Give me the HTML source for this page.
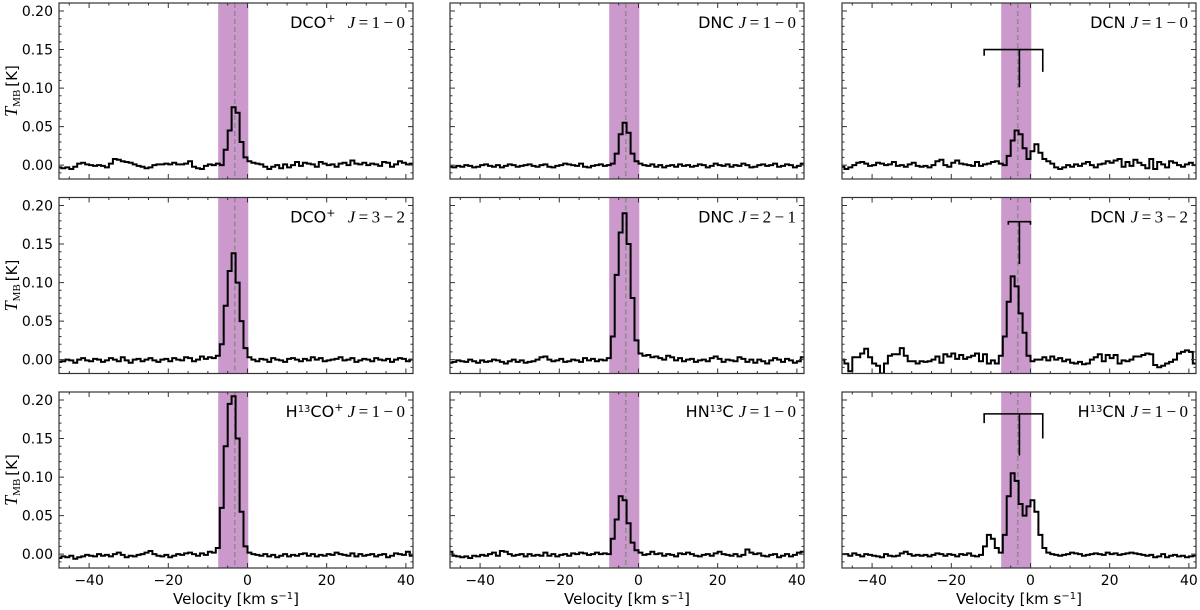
<!DOCTYPE html>
<html><head><meta charset="utf-8"><style>
html,body{margin:0;padding:0;background:#fff;}
svg{display:block;font-family:"DejaVu Sans","Liberation Sans",sans-serif;}
</style></head><body>
<svg id="fig" width="1200" height="610" viewBox="0 0 1200 610" xmlns="http://www.w3.org/2000/svg"></svg>
<script>
const vStart = -48;
const vStep = 1;
const dco10 = [-3,-4,-3,-5,-2,2,3,1,0,-1, 0,-1,-3,2,8,7,5,4,3,1, -1,-2,-4,-3,0,1,1,2,1,3, 1,1,2,5,-2,-4,-5,-1,1,0, 2,0,20,45,75,68,30,10,5,3, 2,1,-2,-5,-2,0,-4,1,-3,0, 4,-1,3,2,1,-2,4,2,0,1, -2,2,3,0,6,2,1,3,0,2, 1,-1,4,3,-2,1,5,3,1,2];
const dnc10 = [-2,-3,-1,-2,0,-1,-3,-2,0,1, -1,-2,0,-3,-1,1,0,-2,-1,0, 1,-1,-2,0,1,-2,-3,-1,0,2, 1,0,-1,2,-2,-3,-1,0,1,-1, 0,2,15,40,55,42,15,5,2,0, -1,1,-2,0,-3,-1,0,-2,1,-1, 0,-2,-1,1,0,-3,-1,2,0,-1, 1,-2,0,-1,2,0,-3,-2,0,1, -1,0,2,-2,-1,1,0,-3,-1,2];
const dcn10 = [-2,-5,-3,0,3,4,2,-1,0,3, 2,0,1,4,-1,0,-2,1,3,-1, -2,-1,-3,0,5,7,0,-2,3,6, 2,1,0,-1,4,-1,1,2,4,5, 2,0,12,32,45,40,22,8,18,27, 16,8,5,2,-3,-5,-3,0,-2,1, -1,2,4,0,-3,1,2,5,3,6, 8,-2,4,-1,7,3,0,-4,8,-5, 4,1,-3,5,3,0,-2,1,3,0];
const dco32 = [-3,-2,0,-1,-4,0,2,-1,-2,1, 0,-3,-1,2,0,-2,3,-1,-4,0, 1,-2,0,2,-1,-3,0,1,-2,2, 0,-1,3,2,-2,0,4,1,3,2, 5,20,70,115,138,100,50,15,3,0, -2,1,0,-3,2,0,-1,-3,1,2, 0,-2,1,-1,3,0,2,-2,-1,0, 1,3,-1,0,2,-3,-1,1,0,-2, 2,0,-1,1,-3,0,2,1,-2,0];
const dnc21 = [-4,-3,-1,-2,-3,0,-2,-4,-1,-3, -2,0,-1,-3,-5,-2,0,-3,-1,-4, -3,-2,0,3,4,0,-2,-1,1,-3, -2,0,-1,-3,2,-1,1,-2,0,-1, 2,30,110,165,190,150,80,25,8,5, 6,3,4,2,0,5,3,-1,2,-2, 0,1,-3,-1,0,-2,2,4,1,-3, 0,-1,-2,3,1,-3,0,-4,0,-2, -5,-1,2,0,-3,1,-1,-4,-2,3];
const dcn32 = [0,-5,-15,3,3,8,14,3,-5,-8, -18,-5,5,7,7,15,5,-2,-2,-5, -2,-3,-2,0,4,-4,7,4,8,1, 6,1,3,5,8,-2,7,-5,-1,-5, 5,30,75,108,95,60,35,5,-2,0, 0,3,-1,4,0,2,-2,0,-4,-5, -3,-6,-5,0,3,7,-2,6,2,6, -5,-1,-2,0,4,4,6,8,7,-7, -10,-8,-5,-3,0,8,10,12,10,-5];
const h13cop = [-5,-3,-4,-2,-6,-4,-3,-1,-2,-3, 0,-2,-1,-3,0,2,-1,-4,-2,-3, -1,0,2,4,0,-2,-3,-1,-4,-2, 0,-1,1,2,0,-2,1,-1,3,2, 8,60,140,195,205,150,55,10,2,0, -1,-2,0,-3,-1,-4,-2,0,-3,-1, -2,0,1,-2,0,-3,-1,-2,0,-1, 2,0,-1,-2,1,-3,0,-2,-1,0, -3,-1,0,-4,-2,1,0,-1,3,-2];
const hn13c = [3,-2,-3,-4,-3,-5,-2,-3,-1,-2, 0,2,-2,4,3,0,-2,-1,0,-3, 0,-2,-1,-2,2,-2,0,-3,-1,0, -2,1,0,2,1,-1,0,2,0,1, 0,20,45,75,70,40,15,5,2,-1, 0,3,0,1,-2,0,-1,-3,1,0, 2,0,-2,-3,-1,0,-2,1,3,0, -1,-2,0,-3,-1,6,2,0,1,-2, -3,-1,0,-4,-2,0,-3,-1,2,3];
const h13cn = [0,0,-2,1,-1,-3,0,-1,-2,-3, -4,0,-2,-3,-2,1,3,0,-2,-1, -2,-1,-3,-1,1,0,-2,0,-1,-3, 0,-1,1,-2,-3,-1,10,25,20,8, 2,25,75,105,95,65,50,62,70,55, 25,8,2,0,-1,-2,-1,0,2,1, 0,-2,-1,0,1,0,-1,2,0,1, -1,0,1,2,1,0,-1,-2,-1,-4, -3,0,-4,-2,-1,-3,-2,-4,-3,-2];
const spectra = [dco10,dnc10,dcn10,dco32,dnc21,dcn32,h13cop,hn13c,h13cn];
const molNames = ["DCO<tspan baseline-shift='super' font-size='11'>+</tspan>\u2002","DNC ","DCN ","DCO<tspan baseline-shift='super' font-size='11'>+</tspan>\u2002","DNC ","DCN ","H<tspan baseline-shift='super' font-size='10'>13</tspan>CO<tspan baseline-shift='super' font-size='11'>+</tspan>","HN<tspan baseline-shift='super' font-size='10'>13</tspan>C ","H<tspan baseline-shift='super' font-size='10'>13</tspan>CN "];
const transitions = ["1\u2009\u2212\u20090","1\u2009\u2212\u20090","1\u2009\u2212\u20090","3\u2009\u2212\u20092","2\u2009\u2212\u20091","3\u2009\u2212\u20092","1\u2009\u2212\u20090","1\u2009\u2212\u20090","1\u2009\u2212\u20090"];
const yTicks = [0,0.05,0.10,0.15,0.20];
const yTickLabels = ["0.00","0.05","0.10","0.15","0.20"];
const xTicks = [-40,-20,0,20,40];
const xTickLabels = ["\u221240","\u221220","0","20","40"];
const bandLo = -7.4, bandHi = 0.2, vsys = -3.2;
// hyperfine marker sets: [panel, barY, centerV, centerBottom, leftV, leftBottom, rightV, rightBottom]
const hfs = [[2,0.150,-2.8,0.101,-11.7,0.142,3.1,0.121],[5,0.179,-2.8,0.124,-5.6,0.175,0.0,0.175],[8,0.182,-2.8,0.128,-11.7,0.170,3.1,0.150]];

const NS="http://www.w3.org/2000/svg";
const svg=document.getElementById('fig');
const colX=[59,450,842], rowY=[3,197.5,392], W=354, H=176;
const xmin=-47.6,xmax=41.8,ymin=-0.018,ymax=0.2104;
function mk(tag,attrs,parent){const e=document.createElementNS(NS,tag);for(const k in attrs)e.setAttribute(k,attrs[k]);(parent||svg).appendChild(e);return e;}
for(let p=0;p<9;p++){
  const c=p%3,r=Math.floor(p/3),X0=colX[c],Y0=rowY[r];
  const sx=v=>X0+(v-xmin)/(xmax-xmin)*W;
  const sy=t=>Y0+H-(t-ymin)/(ymax-ymin)*H;
  const g=mk('g',{});
  
  
  const cp=mk('clipPath',{id:'cp'+p},g);mk('rect',{x:X0,y:Y0,width:W,height:H},cp);
  const band=mk('rect',{x:sx(bandLo),y:Y0,width:sx(bandHi)-sx(bandLo),height:H,fill:'#cc99cc'},g);
  
  
  const dl=mk('line',{x1:sx(vsys),x2:sx(vsys),y1:Y0,y2:Y0+H,stroke:'#888',"stroke-width":1.3,"stroke-dasharray":'5,3'},g);
  
  
  const d=spectra[p];let path='';
  for(let i=0;i<d.length;i++){const v0=vStart+i*vStep,v1=v0+vStep,y=sy(d[i]/1000);
    path+=(i===0?'M':'L')+sx(v0).toFixed(1)+','+y.toFixed(1)+'L'+sx(v1).toFixed(1)+','+y.toFixed(1);}
  const sp=mk('path',{d:path,fill:'none',stroke:'#000',"stroke-width":2,"clip-path":'url(#cp'+p+')'},g);
  
  
  for(const h of hfs){if(h[0]!==p)continue;
    const hp=mk('path',{d:`M${sx(h[4])},${sy(h[5])}L${sx(h[4])},${sy(h[1])}L${sx(h[6])},${sy(h[1])}L${sx(h[6])},${sy(h[7])}M${sx(h[2])},${sy(h[1])}L${sx(h[2])},${sy(h[3])}`,fill:'none',stroke:'#000',"stroke-width":1.6},g);
    
    }
  const fr=mk('rect',{x:X0,y:Y0,width:W,height:H,fill:'none',stroke:'#333',"stroke-width":1.2},g);
  
  
  let tk='';
  for(let v=-45;v<=40;v+=5){const L=(v%20===0)?5:2.5;tk+=`M${sx(v)},${Y0+H}v${-L}M${sx(v)},${Y0}v${L}`;}
  for(let t=-0.01;t<=0.2001;t+=0.01){const L=(Math.round(t*100)%5===0)?5:2.5;tk+=`M${X0},${sy(t)}h${L}M${X0+W},${sy(t)}h${-L}`;}
  mk('path',{d:tk,stroke:'#333',"stroke-width":1,fill:'none'},g);
  const tt=mk('text',{x:X0+W-8,y:Y0+25,"text-anchor":'end',"font-size":16,fill:'#000'},g);
  
  
  tt.innerHTML=molNames[p]+"<tspan font-family='Liberation Serif,serif' font-style='italic' font-size='17'> J</tspan><tspan font-family='Liberation Serif,serif' font-size='17'>\u2009=\u2009"+transitions[p]+"</tspan>";
  if(c===0){
    yTicks.forEach((t,i)=>{const e=mk('text',{x:X0-6,y:sy(t)+5,"text-anchor":'end',"font-size":14,fill:'#000'},g);
      
      
      e.textContent=yTickLabels[i];});
    const yl=mk('text',{transform:`translate(17,${Y0+H/2}) rotate(-90)`,"text-anchor":'middle',"font-size":15,fill:'#000'},g);
    
    
    yl.innerHTML="<tspan font-family='Liberation Serif,serif' font-style='italic' font-size='18'>T</tspan><tspan font-family='Liberation Serif,serif' font-size='11' dy='3'>MB</tspan><tspan dy='-3'>\u2009[K]</tspan>";
  }
  if(r===2){
    xTicks.forEach((v,i)=>{const e=mk('text',{x:sx(v),y:Y0+H+17,"text-anchor":'middle',"font-size":14,fill:'#000'},g);
      
      
      e.textContent=xTickLabels[i];});
    const xl=mk('text',{x:X0+W/2,y:604,"text-anchor":'middle',"font-size":15,fill:'#000'},g);
    
    
    xl.innerHTML="Velocity [km s<tspan baseline-shift='super' font-size='10'>\u22121</tspan>]";
  }
}
</script>
</body></html>
